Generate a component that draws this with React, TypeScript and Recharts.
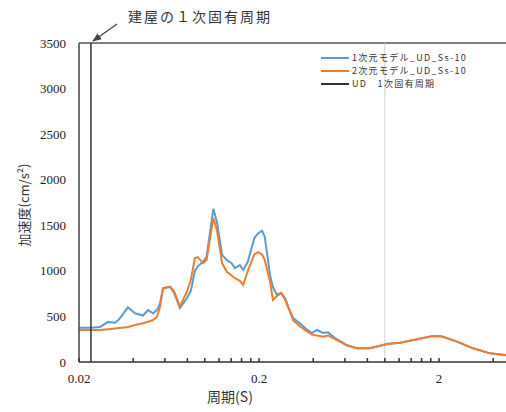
import React from "react";
import { LineChart, Line, XAxis, YAxis, ReferenceLine } from "recharts";

const periods = [0.02, 0.023, 0.0262, 0.029, 0.0317, 0.0335, 0.0374, 0.0409, 0.0453, 0.0484, 0.0516, 0.0542, 0.0563, 0.0586, 0.064, 0.0674, 0.0727, 0.0795, 0.0836, 0.0881, 0.0914, 0.0977, 0.1023, 0.1115, 0.1167, 0.1247, 0.1325, 0.1409, 0.1468, 0.1566, 0.1634, 0.1733, 0.1884, 0.1975, 0.2079, 0.2152, 0.2304, 0.2389, 0.2508, 0.2655, 0.2795, 0.2906, 0.3094, 0.3358, 0.3616, 0.394, 0.42, 0.4537, 0.4834, 0.529, 0.616, 0.7, 0.828, 1.028, 1.216, 1.51, 1.85, 2.08, 2.52, 3.09, 3.84, 4.71];

const model1D = [375, 375, 385, 440, 430, 470, 600, 535, 510, 570, 535, 570, 640, 810, 823, 760, 590, 700, 780, 1000, 1050, 1100, 1155, 1680, 1540, 1174, 1119, 1085, 1030, 1064, 1010, 1100, 1360, 1410, 1440, 1375, 950, 820, 740, 757, 700, 607, 483, 428, 370, 318, 351, 318, 325, 263, 186, 150, 150, 197, 212, 249, 285, 280, 223, 150, 95, 75];

const model2D = [350, 350, 352, 360, 368, 373, 385, 405, 425, 442, 460, 497, 600, 810, 826, 780, 607, 771, 900, 1140, 1150, 1085, 1120, 1580, 1450, 1085, 990, 950, 920, 890, 845, 1000, 1180, 1205, 1180, 1120, 880, 680, 720, 757, 680, 600, 460, 395, 350, 300, 290, 278, 290, 250, 180, 150, 150, 197, 212, 249, 285, 280, 223, 150, 95, 77];

const naturalPeriod = 0.0233;
const xTicks = [0.02, 0.04, 0.06, 0.08, 0.1, 0.12, 0.14, 0.16, 0.18, 0.2, 0.4, 0.6, 0.8, 1, 1.2, 1.4, 1.6, 1.8, 2, 4];
const xLabels = [0.02, 0.2, 2];
const yTicks = [0, 500, 1000, 1500, 2000, 2500, 3000, 3500];

const seriesNames = ["1次元モデル_UD_Ss-10", "2次元モデル_UD_Ss-10", "UD　1次固有周期"];
const colors = ["#5B9BD5", "#ED7D31", "#333333"];

const table = periods.map((t, i) => ({ T: t, a: model1D[i], b: model2D[i] }));
const periodLine = [
  { T: naturalPeriod, c: 0 },
  { T: naturalPeriod, c: 3500 },
];

const serif = "'Liberation Serif', 'DejaVu Serif', serif";
const cjk = "'Noto Sans CJK JP', sans-serif";

const XTick = (props: any) => {
  const { x, y, payload } = props;
  const v = payload.value;
  const show = xLabels.some((l) => Math.abs(l - v) < 1e-9);
  return (
    <g>
      <line x1={x} x2={x} y1={y - 4} y2={y} stroke="#333" strokeWidth={1.5} />
      {show && (
        <text x={x} y={y + 21} textAnchor="middle" fontFamily={serif} fontSize={13} fill="#222">
          {String(v)}
        </text>
      )}
    </g>
  );
};

const LegendBox = () => (
  <div style={{ position: "absolute", left: 321, top: 51, display: "flex", flexDirection: "column" }}>
    {seriesNames.map((n, i) => (
      <div key={n} style={{ display: "flex", alignItems: "center", height: 13 }}>
        <svg width={28} height={4} style={{ marginRight: 3 }}>
          <line x1={0} x2={28} y1={2} y2={2} stroke={colors[i]} strokeWidth={2} />
        </svg>
        <span
          style={{
            display: "block",
            fontFamily: cjk,
            fontSize: 9,
            lineHeight: "13px",
            letterSpacing: 1.3,
            color: "#333",
            whiteSpace: "nowrap",
          }}
        >
          {n}
        </span>
      </div>
    ))}
  </div>
);

export default function App() {
  return (
    <div style={{ position: "absolute", left: 0, top: 0, width: 506, height: 412, background: "#fff" }}>
      <LineChart
        width={506}
        height={412}
        data={table}
        margin={{ top: 43, right: 0, left: 0, bottom: 20 }}
      >
        <XAxis
          dataKey="T"
          type="number"
          scale="log"
          domain={[0.02, 4.71]}
          allowDataOverflow
          ticks={xTicks}
          interval={0}
          tick={<XTick />}
          tickSize={0}
          tickMargin={0}
          tickLine={false}
          axisLine={{ stroke: "#333", strokeWidth: 1.5 }}
          height={30}
        />
        <YAxis
          type="number"
          domain={[0, 3500]}
          ticks={yTicks}
          interval={0}
          width={79}
          tickSize={0}
          tickMargin={13}
          tickLine={false}
          axisLine={{ stroke: "#444", strokeWidth: 1.5 }}
          tick={{ fontFamily: serif, fontSize: 13, fill: "#222" }}
        />
        <ReferenceLine y={3500} stroke="#555" strokeWidth={1.5} />
        <ReferenceLine x={1} stroke="#d0d0d0" strokeWidth={1} />
        <Line
          type="linear"
          dataKey="a"
          name={seriesNames[0]}
          stroke={colors[0]}
          strokeWidth={2}
          dot={false}
          isAnimationActive={false}
        />
        <Line
          type="linear"
          dataKey="b"
          name={seriesNames[1]}
          stroke={colors[1]}
          strokeWidth={2}
          dot={false}
          isAnimationActive={false}
        />
        <Line
          type="linear"
          data={periodLine}
          dataKey="c"
          name={seriesNames[2]}
          stroke={colors[2]}
          strokeWidth={1.5}
          dot={false}
          isAnimationActive={false}
        />
      </LineChart>
      <LegendBox />
      <svg
        width={506}
        height={412}
        style={{ position: "absolute", left: 0, top: 0, pointerEvents: "none" }}
      >
        <defs>
          <marker id="arr" viewBox="0 0 10 10" refX="9" refY="5" markerWidth="7" markerHeight="7" orient="auto-start-reverse">
            <path d="M0,1 L10,5 L0,9 Z" fill="#444" />
          </marker>
        </defs>
        <text x={128} y={22} fontFamily={cjk} fontSize={14} fill="#333" letterSpacing={2}>
          建屋の１次固有周期
        </text>
        <line x1={117} y1={24} x2={93} y2={41} stroke="#444" strokeWidth={1.3} markerEnd="url(#arr)" />
        <text
          transform="translate(29,205) rotate(-90)"
          textAnchor="middle"
          fontFamily={cjk}
          fontSize={13}
          fill="#333"
        >
          加速度(cm/s²)
        </text>
        <text x={230} y={402} textAnchor="middle" fontFamily={cjk} fontSize={14} fill="#333">
          周期(S)
        </text>
      </svg>
    </div>
  );
}
